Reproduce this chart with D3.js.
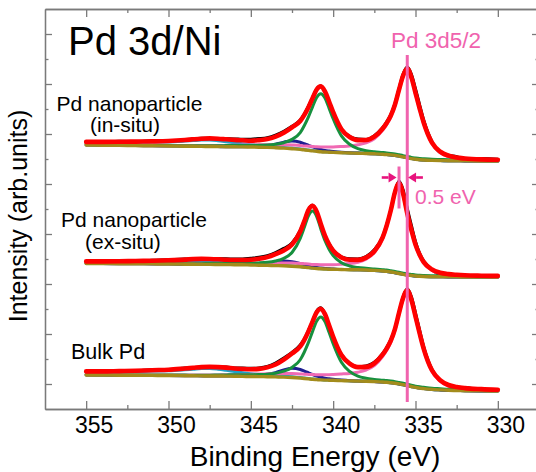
<!DOCTYPE html>
<html>
<head>
<meta charset="utf-8">
<script src="https://cdn.jsdelivr.net/npm/d3@7"></script>
<style>
  body { margin: 0; background: #fff; }
  svg { display: block; font-family: "Liberation Sans", Arial, Helvetica, sans-serif; }
</style>
</head>
<body>
<svg id="chart" width="536" height="472"></svg>
<script>
"use strict";

/******************************** Data ********************************/

// Binding energy grid (eV), shared by every curve
const bindingEnergy = [355, 354, 353, 352, 351, 350, 349, 348.5, 348, 347.5, 347, 346.5, 346, 345.5, 345, 344.5, 344, 343.5, 343, 342.5, 342, 341.75, 341.5, 341.25, 341, 340.75, 340.5, 340.25, 340, 339.5, 339, 338.5, 338, 337.5, 337, 336.75, 336.5, 336.25, 336, 335.75, 335.5, 335.25, 335, 334.75, 334.5, 334, 333.5, 333, 332.5, 332, 331, 330];

// Pd nanoparticle (in-situ): Shirley background (absolute, stacked) and component heights above it
const inSituBg = [264, 263.8, 263.6, 263.4, 263.2, 263, 262.8, 262.7, 262.6, 262.5, 262.4, 262.3, 262.2, 262.1, 262, 261.8, 261.6, 261.3, 260.9, 260.3, 259.6, 259.1, 258.6, 258.1, 257.7, 257.3, 257, 256.8, 256.6, 256.3, 256, 255.8, 255.5, 255.2, 254.8, 254.5, 254.1, 253.6, 252.9, 252.1, 251.2, 250.4, 249.8, 249.3, 249, 248.6, 248.4, 248.3, 248.2, 248.1, 248, 248];
const inSituSatHigh = [2.7, 2.9, 3.1, 3.3, 3.7, 4.1, 5.1, 5.7, 6.3, 6.4, 5.9, 5.0, 4.0, 3.1, 2.3, 1.8, 1.3, 1.0, 0.7, 0.6, 0.4, 0.4, 0.3, 0.3, 0.3, 0.2, 0.2, 0.2, 0.2, 0.1, 0.1, 0.1, 0.1, 0.1, 0, 0, 0, 0, 0, 0, 0, 0, 0, 0, 0, 0, 0, 0, 0, 0, 0, 0];
const inSituSatLow = [0, 0, 0, 0, 0, 0, 0, 0, 0, 0, 0, 0, 0.1, 0.2, 0.4, 1.0, 2.0, 3.6, 6.0, 7.8, 7.2, 6.2, 5.1, 4.0, 3.0, 2.3, 1.6, 1.2, 0.9, 0.4, 0.2, 0.1, 0, 0, 0, 0, 0, 0, 0, 0, 0, 0, 0, 0, 0, 0, 0, 0, 0, 0, 0, 0];
const inSituPd52 = [0.2, 0.2, 0.3, 0.4, 0.4, 0.5, 0.6, 0.7, 0.8, 0.9, 1.1, 1.3, 1.5, 1.8, 2.0, 2.4, 2.7, 3.1, 3.3, 3.7, 4.0, 4.0, 4.2, 4.4, 4.6, 4.8, 4.9, 5.2, 5.5, 6.2, 7.0, 8.4, 10.6, 15.0, 23.8, 29.9, 37.8, 49.3, 65.1, 80.1, 88, 80.1, 65.1, 50.2, 36.1, 16.7, 7.9, 4.0, 2.2, 1.4, 0.7, 0.4];
const inSituPd32 = [0.2, 0.2, 0.2, 0.3, 0.3, 0.4, 0.5, 0.6, 0.6, 0.8, 0.9, 1.1, 1.3, 1.5, 1.6, 1.9, 2.3, 3.4, 5.4, 9.3, 16.8, 24.4, 33.6, 44.1, 53.9, 58, 53.9, 44.1, 33.6, 16.8, 8.7, 4.5, 2.8, 2.0, 1.7, 1.6, 1.5, 1.4, 1.3, 1.3, 1.3, 1.2, 1.2, 1.2, 1.2, 1.1, 1.1, 1.0, 1.0, 1.0, 0.9, 0.9];
const inSituResidual = [-1.0, -0.5, 0.5, 0, 0.5, 0, -0.5, 0.5, 0.5, 0, 0, 0.5, 1.0, 1.0, 1.5, 1.5, 1.5, 1.5, 1.5, 1.0, 1.0, 1.0, 1.0, 0.5, 0.5, 0.5, -0.5, -1.0, -0.5, 0, 0.5, 1.0, 0.5, 1.0, 1.0, 1.0, 1.0, 1.0, 1.0, 1.5, 1.5, 3.0, 4.0, 3.5, 2.5, 1.0, -1.0, 0.5, 1.0, -0.5, 1.0, 0.5];

// Pd nanoparticle (ex-situ)
const exSituBg = [145.5, 145.4, 145.3, 145.2, 145.1, 145.0, 144.8, 144.7, 144.6, 144.6, 144.5, 144.4, 144.3, 144.2, 144.0, 143.8, 143.6, 143.4, 143.2, 142.8, 142.2, 141.8, 141.4, 140.9, 140.5, 140.2, 140.0, 139.8, 139.7, 139.5, 139.3, 139.2, 139.0, 138.6, 138.0, 137.6, 137.0, 136.3, 135.5, 134.7, 134.0, 133.5, 133.0, 132.7, 132.5, 132.3, 132.2, 132.1, 132.1, 132.0, 132.0, 132.0];
const exSituSatHigh = [1.7, 1.8, 1.9, 2.1, 2.4, 2.8, 3.5, 3.9, 4.0, 3.6, 3.1, 2.4, 1.9, 1.4, 1.1, 0.8, 0.6, 0.5, 0.3, 0.3, 0.2, 0.2, 0.1, 0.1, 0.1, 0.1, 0, 0, 0, 0, 0, 0, 0, 0, 0, 0, 0, 0, 0, 0, 0, 0, 0, 0, 0, 0, 0, 0, 0, 0, 0, 0];
const exSituSatLow = [0, 0, 0, 0, 0, 0, 0, 0, 0, 0, 0, 0.1, 0.1, 0.3, 0.6, 1.3, 2.3, 3.8, 4.9, 4.5, 3.2, 2.5, 1.9, 1.5, 1.0, 0.8, 0.6, 0.4, 0.3, 0.1, 0.1, 0, 0, 0, 0, 0, 0, 0, 0, 0, 0, 0, 0, 0, 0, 0, 0, 0, 0, 0, 0, 0];
const exSituPd52 = [0.2, 0.2, 0.3, 0.4, 0.4, 0.5, 0.6, 0.7, 0.8, 0.9, 1.1, 1.2, 1.4, 1.6, 1.8, 2.0, 2.3, 2.6, 2.8, 3.1, 3.4, 3.5, 3.6, 3.7, 3.9, 4.1, 4.3, 4.5, 4.6, 5.2, 6.1, 7.6, 10.7, 17.8, 32.0, 44.5, 60.5, 79.2, 89, 79.2, 60.5, 44.5, 30.3, 20.5, 13.4, 6.2, 3.1, 1.8, 1.2, 0.8, 0.4, 0.3];
const exSituPd32 = [0.2, 0.2, 0.2, 0.3, 0.3, 0.4, 0.5, 0.6, 0.7, 0.9, 1.0, 1.1, 1.3, 1.5, 1.8, 2.3, 3.1, 4.6, 7.4, 13.7, 28.5, 39.9, 51.9, 57, 51.9, 39.9, 28.5, 20.0, 13.7, 6.8, 3.7, 2.3, 1.7, 1.4, 1.3, 1.3, 1.2, 1.2, 1.2, 1.1, 1.1, 1.1, 1.1, 1.0, 1.0, 1.0, 1.0, 1.0, 0.9, 0.9, 0.9, 0.8];
const exSituResidual = [0, -1.0, 0.5, -0.5, 0.5, 0.5, 0.5, 0, 0.5, 0, 0.5, 1.0, 1.0, 1.0, 1.5, 1.5, 1.5, 1.5, 2.0, 1.5, 1.0, 0.5, 0.5, 0.5, 0, -0.5, 0, 0.5, 0.5, 0.5, 1.0, 1.0, 1.0, 1.5, 1.0, 1.0, 0.5, 1.0, 2.0, 4.0, 5.0, 4.5, 3.0, 1.5, 1.0, 0, -1.5, -0.5, -1.5, -1.0, -1.0, -0.5];

// Bulk Pd
const bulkBg = [34, 33.9, 33.8, 33.7, 33.6, 33.5, 33.3, 33.2, 33.1, 33.0, 33.0, 32.9, 32.8, 32.6, 32.5, 32.4, 32.3, 32.1, 31.9, 31.5, 30.9, 30.5, 30.1, 29.7, 29.4, 29.1, 28.9, 28.8, 28.7, 28.4, 28.1, 27.9, 27.7, 27.4, 27.0, 26.7, 26.3, 25.8, 25.1, 24.3, 23.4, 22.5, 21.6, 20.9, 20.4, 19.6, 19.1, 18.7, 18.5, 18.3, 18.1, 18];
const bulkSatHigh = [3.2, 3.3, 3.5, 3.8, 4.3, 4.7, 5.9, 6.6, 7.3, 7.4, 6.8, 5.8, 4.6, 3.6, 2.7, 2.0, 1.5, 1.1, 0.9, 0.7, 0.5, 0.4, 0.4, 0.3, 0.3, 0.3, 0.2, 0.2, 0.2, 0.2, 0.1, 0.1, 0.1, 0.1, 0.1, 0, 0, 0, 0, 0, 0, 0, 0, 0, 0, 0, 0, 0, 0, 0, 0, 0];
const bulkSatLow = [0, 0, 0, 0, 0, 0, 0, 0, 0, 0, 0, 0.1, 0.1, 0.3, 0.5, 1.1, 2.4, 4.3, 7.1, 9.3, 8.6, 7.4, 6.1, 4.8, 3.6, 2.8, 1.9, 1.4, 1.0, 0.5, 0.2, 0.1, 0, 0, 0, 0, 0, 0, 0, 0, 0, 0, 0, 0, 0, 0, 0, 0, 0, 0, 0, 0];
const bulkPd52 = [0.2, 0.2, 0.3, 0.4, 0.5, 0.6, 0.7, 0.8, 0.8, 0.9, 1.1, 1.4, 1.6, 1.9, 2.2, 2.5, 2.9, 3.3, 3.6, 3.9, 4.2, 4.3, 4.5, 4.7, 4.9, 5.1, 5.3, 5.5, 5.8, 6.6, 7.5, 8.9, 11.3, 16.0, 25.4, 32.0, 40.4, 52.6, 69.6, 85.5, 94, 85.5, 69.6, 53.6, 38.5, 17.9, 8.5, 4.2, 2.4, 1.5, 0.8, 0.4];
const bulkPd32 = [0.2, 0.2, 0.3, 0.3, 0.4, 0.4, 0.6, 0.6, 0.7, 0.8, 1.0, 1.2, 1.4, 1.6, 1.8, 2.1, 2.5, 3.7, 5.9, 10.1, 18.3, 26.5, 36.5, 47.9, 58.6, 63, 58.6, 47.9, 36.5, 18.3, 9.5, 4.9, 3.0, 2.2, 1.8, 1.7, 1.6, 1.5, 1.4, 1.4, 1.4, 1.3, 1.3, 1.3, 1.3, 1.2, 1.2, 1.1, 1.1, 1.1, 1.0, 0.9];
const bulkResidual = [0, 0, 0.5, 0, 0.5, 0, 0.5, 0, 0, -0.5, 0, 0.5, 0.5, 1.0, 1.0, 1.0, 1.0, 1.5, 1.5, 1.0, 1.5, 1.0, 1.0, 0.5, 1.0, 1.0, 0.5, 0, 0, 0.5, 0.5, 0.5, 1.0, 1.0, 1.0, 1.0, 1.0, 0.5, 0.5, 1.0, 1.5, 3.0, 3.5, 3.0, 2.0, 1.0, 0, -0.5, 0, 0.5, -0.5, 0];

// Axis ticks
const xTickLabels = [355, 350, 345, 340, 335, 330];
const xMinorTicks = [352.5, 347.5, 342.5, 337.5, 332.5];
const yMajorTicks = [25, 75, 125, 175, 225, 275, 325, 375];
const yMinorTicks = [50, 100, 150, 200, 250, 300, 350];

// Annotations: Pd 3d5/2 reference line and the ex-situ shift
const pd52Energy = 335.5;
const pd52LineSpan = [7, 354];
const exSituPeakEnergy = 336.0;
const exSituMarkSpan = [200.5, 242.5];
const shiftArrowLevel = 231.5;
const shiftArrowLeft = [337.05, 336.15];
const shiftArrowRight = [334.55, 335.45];

/******************************** Render ********************************/

const SVG = d3.select("#chart");
const AXIS_COLOR = "#7a7a7a";
const PINK = "#f063ae";
const ARROW_PINK = "#e8137d";

const X_SCALE = d3.scaleLinear().domain([357.5, 327.5]).range([45, 539]);
const Y_SCALE = d3.scaleLinear().domain([0, 400]).range([409, 9]);

// Frame and ticks
function addAxis(axis, tx, ty) {
  const g = SVG.append("g").attr("transform", "translate(" + tx + "," + ty + ")").call(axis);
  g.selectAll("path, line").attr("stroke", AXIS_COLOR).attr("stroke-width", 1.3);
  return g;
}

const xMajorBottom = addAxis(
  d3.axisBottom(X_SCALE).tickValues(xTickLabels).tickSize(-8).tickSizeOuter(0).tickFormat(d3.format("d")),
  0, 409
);
xMajorBottom.selectAll("text")
  .attr("y", 24).attr("dy", 0).attr("dx", 7.5)
  .attr("fill", "#000").style("font-size", "23px");
addAxis(d3.axisBottom(X_SCALE).tickValues(xMinorTicks).tickSize(-4).tickSizeOuter(0).tickFormat(""), 0, 409);
addAxis(d3.axisTop(X_SCALE).tickValues(xTickLabels).tickSize(-8).tickSizeOuter(0).tickFormat(""), 0, 9);
addAxis(d3.axisTop(X_SCALE).tickValues(xMinorTicks).tickSize(-4).tickSizeOuter(0).tickFormat(""), 0, 9);
addAxis(d3.axisLeft(Y_SCALE).tickValues(yMajorTicks).tickSize(-7).tickSizeOuter(0).tickFormat(""), 45, 0);
addAxis(d3.axisLeft(Y_SCALE).tickValues(yMinorTicks).tickSize(-3.5).tickSizeOuter(0).tickFormat(""), 45, 0);
addAxis(d3.axisRight(Y_SCALE).tickValues(yMajorTicks).tickSize(-7).tickSizeOuter(0).tickFormat(""), 539, 0);
addAxis(d3.axisRight(Y_SCALE).tickValues(yMinorTicks).tickSize(-3.5).tickSizeOuter(0).tickFormat(""), 539, 0);

// Curves
const LINE = d3.line()
  .x(function(d, i) { return X_SCALE(bindingEnergy[i]); })
  .y(function(d) { return Y_SCALE(d); })
  .curve(d3.curveMonotoneX);

const spectra = [
  { bg: inSituBg, satHigh: inSituSatHigh, satLow: inSituSatLow, pd52: inSituPd52, pd32: inSituPd32, res: inSituResidual },
  { bg: exSituBg, satHigh: exSituSatHigh, satLow: exSituSatLow, pd52: exSituPd52, pd32: exSituPd32, res: exSituResidual },
  { bg: bulkBg, satHigh: bulkSatHigh, satLow: bulkSatLow, pd52: bulkPd52, pd32: bulkPd32, res: bulkResidual }
];

const G_CURVES = SVG.append("g").attr("fill", "none").attr("stroke-linejoin", "round").attr("stroke-linecap", "round");

spectra.forEach(function(s) {
  // stack each component on the background
  const onBg = function(arr) { return arr.map(function(v, i) { return s.bg[i] + v; }); };
  const fit = s.bg.map(function(b, i) { return b + s.satHigh[i] + s.satLow[i] + s.pd52[i] + s.pd32[i]; });
  const measured = fit.map(function(v, i) { return v + s.res[i]; });

  G_CURVES.append("path").attr("d", LINE(measured)).attr("stroke", "#000").attr("stroke-width", 3);
  G_CURVES.append("path").attr("d", LINE(onBg(s.satHigh))).attr("stroke", "#1ea3c9").attr("stroke-width", 3);
  G_CURVES.append("path").attr("d", LINE(onBg(s.satLow))).attr("stroke", "#1e1e92").attr("stroke-width", 3);
  G_CURVES.append("path").attr("d", LINE(onBg(s.pd52))).attr("stroke", "#f06ab4").attr("stroke-width", 3);
  G_CURVES.append("path").attr("d", LINE(onBg(s.pd32))).attr("stroke", "#17903e").attr("stroke-width", 3);
  G_CURVES.append("path").attr("d", LINE(s.bg)).attr("stroke", "#a38c1c").attr("stroke-width", 3.4);
  G_CURVES.append("path").attr("d", LINE(fit)).attr("stroke", "#ff0000").attr("stroke-width", 4.6);
});

// Pd 3d5/2 reference line
SVG.append("line")
  .attr("x1", X_SCALE(pd52Energy)).attr("x2", X_SCALE(pd52Energy))
  .attr("y1", Y_SCALE(pd52LineSpan[0])).attr("y2", Y_SCALE(pd52LineSpan[1]))
  .attr("stroke", PINK).attr("stroke-width", 3);

// Ex-situ peak mark
SVG.append("line")
  .attr("x1", X_SCALE(exSituPeakEnergy)).attr("x2", X_SCALE(exSituPeakEnergy))
  .attr("y1", Y_SCALE(exSituMarkSpan[0])).attr("y2", Y_SCALE(exSituMarkSpan[1]))
  .attr("stroke", PINK).attr("stroke-width", 3);

// Shift arrows
function drawArrow(pair) {
  const x0 = X_SCALE(pair[0]);
  const x1 = X_SCALE(pair[1]);
  const y = Y_SCALE(shiftArrowLevel);
  const dir = Math.sign(x1 - x0);
  const headLen = 8;
  SVG.append("line")
    .attr("x1", x0).attr("x2", x1 - dir * headLen).attr("y1", y).attr("y2", y)
    .attr("stroke", ARROW_PINK).attr("stroke-width", 2.6);
  SVG.append("path")
    .attr("d", "M" + x1 + "," + y + "L" + (x1 - dir * headLen) + "," + (y - 5) + "L" + (x1 - dir * headLen) + "," + (y + 5) + "Z")
    .attr("fill", ARROW_PINK);
}
drawArrow(shiftArrowLeft);
drawArrow(shiftArrowRight);

// Texts
function addText(str, x, y, size, color, anchor) {
  return SVG.append("text")
    .attr("x", x).attr("y", y)
    .attr("fill", color || "#000")
    .attr("text-anchor", anchor || "start")
    .style("font-size", size + "px")
    .text(str);
}

addText("Pd 3d/Ni", 68, 54.5, 40);
addText("Pd 3d5/2", 391, 48, 22.5, PINK);
addText("Pd nanoparticle", 56.5, 110.5, 21);
addText("(in-situ)", 90, 131.5, 21);
addText("Pd nanoparticle", 61, 227, 21);
addText("(ex-situ)", 85, 248.5, 21);
addText("Bulk Pd", 71, 359, 21.5);
addText("0.5 eV", 415, 203.5, 21, PINK);
addText("Binding Energy (eV)", 315, 466, 28, "#000", "middle");

SVG.append("text")
  .attr("transform", "translate(27,216) rotate(-90)")
  .attr("text-anchor", "middle")
  .attr("fill", "#000")
  .style("font-size", "25px")
  .text("Intensity (arb.units)");
</script>
</body>
</html>
